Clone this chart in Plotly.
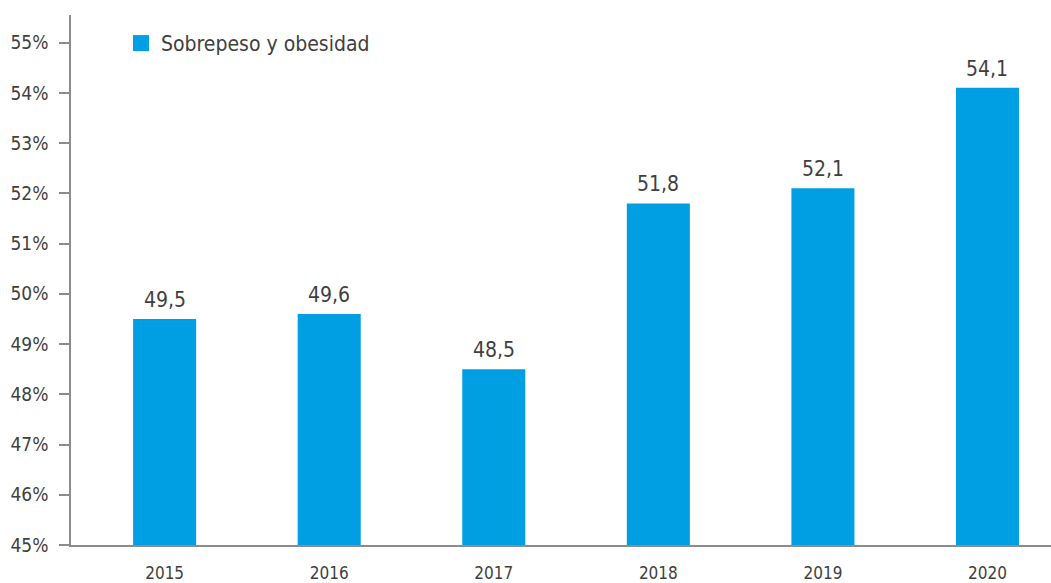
import plotly.graph_objects as go

years = ["2015", "2016", "2017", "2018", "2019", "2020"]
sobrepeso = [49.5, 49.6, 48.5, 51.8, 52.1, 54.1]
y_ticks = [45, 46, 47, 48, 49, 50, 51, 52, 53, 54, 55]
y_tick_text = [f"{t}%" for t in y_ticks]
series_name = "Sobrepeso y obesidad"

FONT = "DejaVu Sans Condensed, Roboto, sans-serif"
TEXT = "#3f3f3f"
AXIS = "#8c8c8c"
BAR = "#009FE3"

labels = [f"{v:.1f}".replace(".", ",") for v in sobrepeso]

fig = go.Figure()
fig.add_trace(
    go.Bar(
        x=years,
        y=sobrepeso,
        name=series_name,
        marker=dict(color=BAR, line=dict(width=0)),
        width=0.383,
        showlegend=False,
    )
)
# legend entry with a larger square swatch
fig.add_trace(
    go.Scatter(
        x=[None], y=[None], mode="markers", name=series_name,
        marker=dict(symbol="square", size=17, color=BAR),
        hoverinfo="skip",
        showlegend=True,
    )
)

# value labels above each bar
annotations = [
    dict(
        x=i, y=v, xref="x", yref="y", text=lab, showarrow=False,
        yanchor="bottom", yshift=5,
        font=dict(size=21, color=TEXT, family=FONT),
    )
    for i, (v, lab) in enumerate(zip(sobrepeso, labels))
]

fig.update_layout(
    width=1051,
    height=583,
    margin=dict(l=71, r=0, t=15, b=38),
    plot_bgcolor="white",
    paper_bgcolor="white",
    font=dict(family=FONT, color=TEXT),
    showlegend=True,
    annotations=annotations,
    legend=dict(
        x=0.051, y=0.985, xanchor="left", yanchor="top",
        font=dict(size=21, color=TEXT, family=FONT),
        bgcolor="rgba(0,0,0,0)",
        itemwidth=30,
    ),
    xaxis=dict(
        type="category",
        range=[-0.569, 5.386],
        showline=True, linecolor=AXIS, linewidth=1.5,
        ticks="", showgrid=False,
        tickfont=dict(size=17, color=TEXT, family=FONT),
        ticklabelstandoff=12,
    ),
    yaxis=dict(
        range=[45, 55.55],
        tickvals=y_ticks,
        ticktext=y_tick_text,
        showline=True, linecolor=AXIS, linewidth=1.5,
        ticks="outside", ticklen=10, tickcolor=AXIS, tickwidth=1.5,
        showgrid=False, zeroline=False,
        tickfont=dict(size=19, color=TEXT, family=FONT),
        ticklabelstandoff=7,
    ),
)

fig.write_html("out.html")
